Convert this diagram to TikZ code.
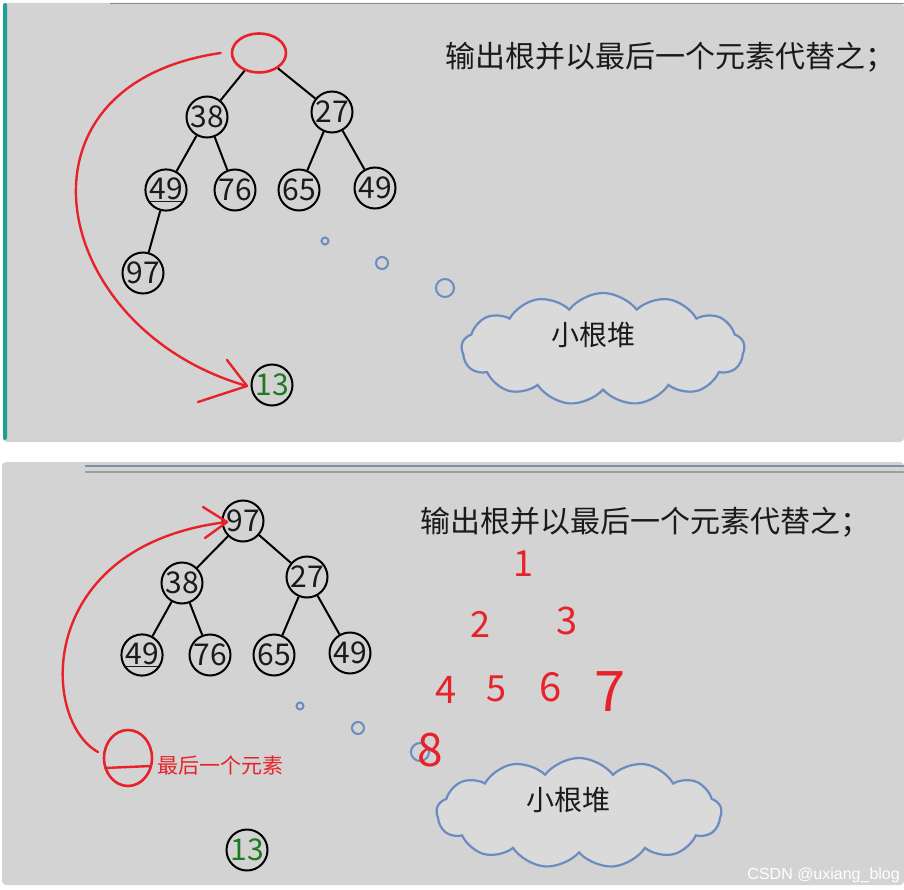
\documentclass[tikz,border=0pt]{standalone}
\usepackage{fontspec}
\setmainfont{Noto Sans CJK SC}
\newfontfamily\wmfont{Liberation Sans}
\usetikzlibrary{shapes.symbols,shapes.geometric}
\definecolor{panelbg}{HTML}{D3D3D3}
\definecolor{teal}{HTML}{1FA192}
\definecolor{bubble}{HTML}{6A8CC0}
\definecolor{hred}{HTML}{E8222A}
\definecolor{numgreen}{HTML}{1E7A1E}
\definecolor{txt}{HTML}{1A1A1A}
\definecolor{rule}{HTML}{7F90A8}
\tikzset{
  hnode/.style={circle, draw=black, line width=2pt, minimum size=41pt, inner sep=0pt,
    font=\fontsize{30}{32}\selectfont, text=txt},
  edge/.style={draw=black, line width=2pt},
  redline/.style={draw=hred, line width=2.4pt, line cap=round},
  bub/.style={circle, draw=bubble, line width=2pt, inner sep=0pt},
  thought/.style={cloud, cloud puffs=13, cloud puff arc=105, aspect=2.6, draw=bubble,
    line width=2.2pt, fill=panelbg!85!white, inner sep=0pt},
  title/.style={font=\fontsize{30}{34}\selectfont, text=txt, anchor=west, inner sep=0pt},
  cloudtxt/.style={font=\fontsize{28}{32}\selectfont, text=txt, inner sep=0pt},
  hand/.style={text=hred, inner sep=0pt},
}
\begin{document}
\begin{tikzpicture}[x=1pt,y=-1pt]
\useasboundingbox (0,0) rectangle (904,890);
\fill[white] (0,0) rectangle (904,890);
% ---------- panels ----------
\fill[panelbg, rounded corners=4pt] (3,3) rectangle (904,442);
\fill[teal, rounded corners=2pt] (3,3) rectangle (7,440);
\draw[color=black!45, line width=1pt] (110,4) -- (904,4);
\fill[panelbg, rounded corners=4pt] (2,462) rectangle (904,885);
\draw[color=rule, line width=2pt] (85,466) -- (904,466);
\draw[color=black!38, line width=1.2pt] (85,472) -- (904,472);

% ---------- top panel ----------
\node[ellipse, draw=hred, line width=2.6pt, minimum width=54pt, minimum height=39pt, inner sep=0pt] (r0) at (259,53) {};
\node[hnode] (a38) at (207,117) {38};
\node[hnode] (a27) at (332,112) {27};
\node[hnode] (a49) at (166,190) {\underline{49}};
\node[hnode] (a76) at (235,190) {76};
\node[hnode] (a65) at (299,190) {65};
\node[hnode] (a49b) at (375,188) {49};
\node[hnode] (a97) at (143,273) {97};
\node[hnode, text=numgreen] (a13) at (272,385) {13};
\draw[edge] (r0) -- (a38);
\draw[edge] (r0) -- (a27);
\draw[edge] (a38) -- (a49);
\draw[edge] (a38) -- (a76);
\draw[edge] (a27) -- (a65);
\draw[edge] (a27) -- (a49b);
\draw[edge] (a49) -- (a97);
\node[title] (t1) at (445,57) {输出根并以最后一个元素代替之；};
\node[bub, minimum size=7pt] (b1) at (325,241) {};
\node[bub, minimum size=12pt] (b2) at (382,263) {};
\node[bub, minimum size=18pt] (b3) at (445,288) {};
\node[thought, minimum width=283pt, minimum height=112pt] (c1) at (603,349) {};
\node[cloudtxt] (c1t) at (593,335) {小根堆};
\coordinate (s1) at ([xshift=-10pt]r0.west);
\coordinate (e1) at (247,386);
\draw[redline] (s1) .. controls (0,85) and (50,330) .. (e1);
\draw[redline] (e1) -- ++(-20,-26);
\draw[redline] (e1) -- ++(-49,16);

% ---------- bottom panel ----------
\node[hnode] (b97) at (243,521) {97};
\node[hnode] (b38) at (182,583) {38};
\node[hnode] (b27) at (307,577) {27};
\node[hnode] (b49) at (142,655) {\underline{49}};
\node[hnode] (b76) at (210,655) {76};
\node[hnode] (b65) at (274,655) {65};
\node[hnode] (b49b) at (350,653) {49};
\node[hnode, text=numgreen] (b13) at (247,850) {13};
\draw[edge] (b97) -- (b38);
\draw[edge] (b97) -- (b27);
\draw[edge] (b38) -- (b49);
\draw[edge] (b38) -- (b76);
\draw[edge] (b27) -- (b65);
\draw[edge] (b27) -- (b49b);
\node[title] (t2) at (420,522) {输出根并以最后一个元素代替之；};
\node[bub, minimum size=7pt] (d1) at (300,706) {};
\node[bub, minimum size=12pt] (d2) at (358,728) {};
\node[bub, minimum size=18pt] (d3) at (420,752) {};
\node[thought, minimum width=285pt, minimum height=110pt] (c2) at (579,813) {};
\node[cloudtxt] (c2t) at (568,800) {小根堆};
% last element marker
\node[ellipse, draw=hred, line width=2.6pt, minimum width=48pt, minimum height=56pt, inner sep=0pt] (last) at (128,758) {};
\coordinate (l1) at (105,768);
\coordinate (l2) at (151,766);
\draw[redline] (l1) -- (l2);
\node[hand, anchor=west, font=\fontsize{21}{24}\selectfont] (lastt) at (157,766) {最后一个元素};
\coordinate (s2) at (98,752);
\coordinate (e2) at (227,522);
\draw[redline] (s2) .. controls (40,720) and (35,545) .. (e2);
\draw[redline] (e2) -- ++(-24,-15);
\draw[redline] (e2) -- ++(-22,16);
% handwritten order numbers
\node[hand, font=\fontsize{36}{40}\selectfont] (n1) at (523,564) {1};
\node[hand, font=\fontsize{36}{40}\selectfont] (n2) at (480,624) {2};
\node[hand, font=\fontsize{38}{42}\selectfont] (n3) at (567,621) {3};
\node[hand, font=\fontsize{38}{42}\selectfont] (n4) at (446,690) {4};
\node[hand, font=\fontsize{36}{40}\selectfont] (n5) at (496,689) {5};
\node[hand, font=\fontsize{40}{44}\selectfont] (n6) at (551,687) {6};
\node[hand, font=\fontsize{56}{60}\selectfont] (n7) at (610,692) {7};
\node[hand, font=\fontsize{46}{50}\selectfont] (n8) at (430,750) {8};

% watermark
\node[anchor=east, inner sep=0pt, text=white, font=\wmfont\fontsize{16}{18}\selectfont] (wm) at (900,875) {CSDN @uxiang\_blog};
\end{tikzpicture}
\end{document}
